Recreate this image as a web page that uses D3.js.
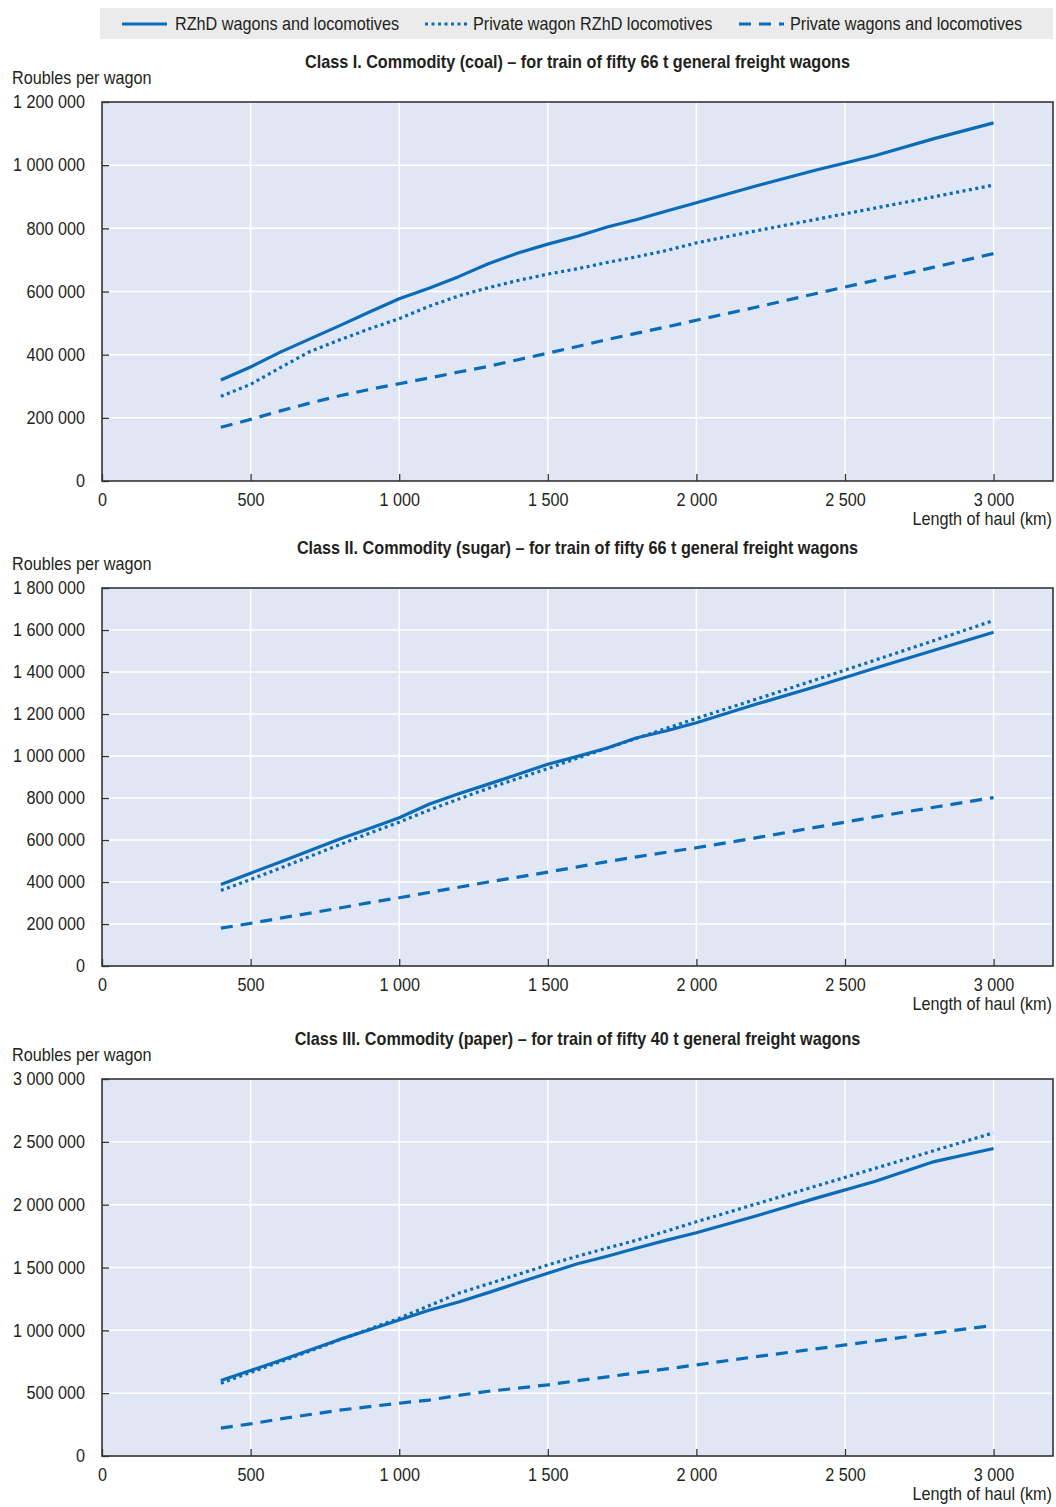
<!DOCTYPE html>
<html>
<head>
<meta charset="utf-8">
<script src="https://cdn.jsdelivr.net/npm/d3@7"></script>
<style>
body { margin: 0; background: #fff; }
svg text { font-family: "Liberation Sans", Arial, sans-serif; fill: #231f20; }
</style>
</head>
<body>
<svg id="chart" width="1056" height="1507"></svg>
<script>
// length of haul, km
const haul = [400, 500, 600, 700, 800, 900, 1000, 1100, 1200, 1300, 1400, 1500, 1600, 1700, 1800, 1900, 2000, 2200, 2400, 2600, 2800, 3000];

// Class I (coal), roubles per wagon
const coalRzhd    = [320000, 361000, 408000, 450000, 492000, 535000, 577000, 610000, 647000, 688000, 722000, 750000, 775000, 804000, 828000, 855000, 881000, 934000, 984000, 1030000, 1084000, 1134000];
const coalPrivWag = [268000, 306000, 359000, 410000, 447000, 482000, 514000, 553000, 586000, 612000, 635000, 655000, 672000, 692000, 710000, 730000, 754000, 792000, 828000, 864000, 900000, 937000];
const coalPrivate = [170000, 195000, 222000, 247000, 270000, 290000, 308000, 326000, 345000, 363000, 384000, 405000, 426000, 448000, 468000, 488000, 509000, 550000, 593000, 635000, 677000, 720000];

// Class II (sugar)
const sugarRzhd    = [388000, 442000, 495000, 550000, 605000, 655000, 706000, 770000, 820000, 866000, 913000, 961000, 998000, 1038000, 1087000, 1120000, 1158000, 1246000, 1330000, 1418000, 1504000, 1589000];
const sugarPrivWag = [360000, 412000, 466000, 522000, 578000, 632000, 685000, 742000, 795000, 846000, 893000, 940000, 990000, 1038000, 1085000, 1132000, 1179000, 1270000, 1362000, 1456000, 1550000, 1645000];
const sugarPrivate = [180000, 203000, 228000, 252000, 276000, 302000, 325000, 350000, 375000, 400000, 423000, 447000, 472000, 497000, 520000, 542000, 563000, 610000, 660000, 710000, 756000, 802000];

// Class III (paper)
const paperRzhd    = [600000, 680000, 760000, 843000, 928000, 1005000, 1083000, 1160000, 1225000, 1300000, 1378000, 1454000, 1530000, 1590000, 1655000, 1718000, 1777000, 1910000, 2050000, 2185000, 2343000, 2447000];
const paperPrivWag = [579000, 665000, 750000, 835000, 925000, 1010000, 1096000, 1195000, 1295000, 1370000, 1445000, 1520000, 1590000, 1655000, 1718000, 1790000, 1864000, 2005000, 2146000, 2288000, 2430000, 2572000];
const paperPrivate = [222000, 256000, 295000, 330000, 365000, 393000, 420000, 445000, 482000, 515000, 540000, 566000, 600000, 630000, 662000, 693000, 725000, 790000, 852000, 915000, 978000, 1040000];

const seriesNames = ["RZhD wagons and locomotives", "Private wagon RZhD locomotives", "Private wagons and locomotives"];
const xTicks = [0, 500, 1000, 1500, 2000, 2500, 3000];

const blue = "#0a6cb8";
const dashes = [null, "3,3.5", "12,8"];

const loc = d3.formatLocale({decimal: ".", thousands: "\u00a0", grouping: [3], currency: ["", ""]});
const fmt = loc.format(",");

const svg = d3.select("#chart");

// legend
svg.append("rect").attr("x", 100).attr("y", 8).attr("width", 953).attr("height", 31).attr("fill", "#ebebeb");
const legX = [122, 425, 739];
const legText = [175, 473, 790];
seriesNames.forEach((n, i) => {
	svg.append("line")
		.attr("x1", legX[i]).attr("x2", legX[i] + 45)
		.attr("y1", 24).attr("y2", 24)
		.attr("stroke", blue).attr("stroke-width", 3.2)
		.attr("stroke-dasharray", dashes[i]);
	svg.append("text")
		.attr("x", legText[i]).attr("y", 30)
		.style("font-size", "18px")
		.text(n);
});

const panels = [
	{title: "Class I. Commodity (coal) \u2013 for train of fifty 66 t general freight wagons", data: [coalRzhd, coalPrivWag, coalPrivate], max: 1200000, step: 200000, top: 102, bottom: 481},
	{title: "Class II. Commodity (sugar) \u2013 for train of fifty 66 t general freight wagons", data: [sugarRzhd, sugarPrivWag, sugarPrivate], max: 1800000, step: 200000, top: 588, bottom: 966},
	{title: "Class III. Commodity (paper) \u2013 for train of fifty 40 t general freight wagons", data: [paperRzhd, paperPrivWag, paperPrivate], max: 3000000, step: 500000, top: 1079, bottom: 1456}
];

const left = 102, right = 1053;

panels.forEach(p => {
	const x = d3.scaleLinear().domain([0, 3200]).range([left, right]);
	const y = d3.scaleLinear().domain([0, p.max]).range([p.bottom, p.top]);
	const yTicks = d3.range(0, p.max + 1, p.step);
	const g = svg.append("g");

	g.append("rect")
		.attr("x", left).attr("y", p.top)
		.attr("width", right - left).attr("height", p.bottom - p.top)
		.attr("fill", "#e0e6f4");

	// grid
	g.selectAll(".gx").data(xTicks.slice(1)).enter().append("line")
		.attr("x1", d => x(d)).attr("x2", d => x(d))
		.attr("y1", p.top).attr("y2", p.bottom)
		.attr("stroke", "#fff").attr("stroke-width", 1.5);
	g.selectAll(".gy").data(yTicks.slice(1)).enter().append("line")
		.attr("x1", left).attr("x2", right)
		.attr("y1", d => y(d)).attr("y2", d => y(d))
		.attr("stroke", "#fff").attr("stroke-width", 1.5);

	// lines
	const line = d3.line().x((d, i) => x(haul[i])).y(d => y(d));
	p.data.forEach((s, i) => {
		g.append("path")
			.datum(s)
			.attr("d", line)
			.attr("fill", "none")
			.attr("stroke", blue)
			.attr("stroke-width", 3.2)
			.attr("stroke-linejoin", "round")
			.attr("stroke-dasharray", dashes[i]);
	});

	// axes
	const ax = g.append("g").attr("transform", `translate(0,${p.bottom})`)
		.call(d3.axisBottom(x).tickValues(xTicks).tickSize(-7).tickPadding(12).tickFormat(fmt));
	const ay = g.append("g").attr("transform", `translate(${left},0)`)
		.call(d3.axisLeft(y).tickValues(yTicks).tickSize(-7).tickPadding(17).tickFormat(fmt));
	[ax, ay].forEach(a => {
		a.select(".domain").remove();
		a.selectAll("line").attr("stroke", "#333").attr("stroke-width", 1.3);
		a.selectAll("text").style("font-size", "18px").attr("fill", "#231f20");
	});

	// frame
	g.append("rect")
		.attr("x", left).attr("y", p.top)
		.attr("width", right - left).attr("height", p.bottom - p.top)
		.attr("fill", "none").attr("stroke", "#333").attr("stroke-width", 1.6);

	g.append("text")
		.attr("x", (left + right) / 2).attr("y", p.top - 34)
		.attr("text-anchor", "middle")
		.style("font-size", "18px").style("font-weight", "bold")
		.text(p.title);
	g.append("text")
		.attr("x", 12).attr("y", p.top - 18)
		.style("font-size", "18px")
		.text("Roubles per wagon");
	g.append("text")
		.attr("x", right - 1).attr("y", p.bottom + 44)
		.attr("text-anchor", "end")
		.style("font-size", "18px")
		.text("Length of haul (km)");
});

// squeeze text horizontally round its anchor, to look like the condensed face of the original
svg.selectAll("text").each(function() {
	const ax = +this.getAttribute("x") || 0;
	d3.select(this).attr("transform", `translate(${ax},0) scale(0.9,1) translate(${-ax},0)`);
});
</script>
</body>
</html>
